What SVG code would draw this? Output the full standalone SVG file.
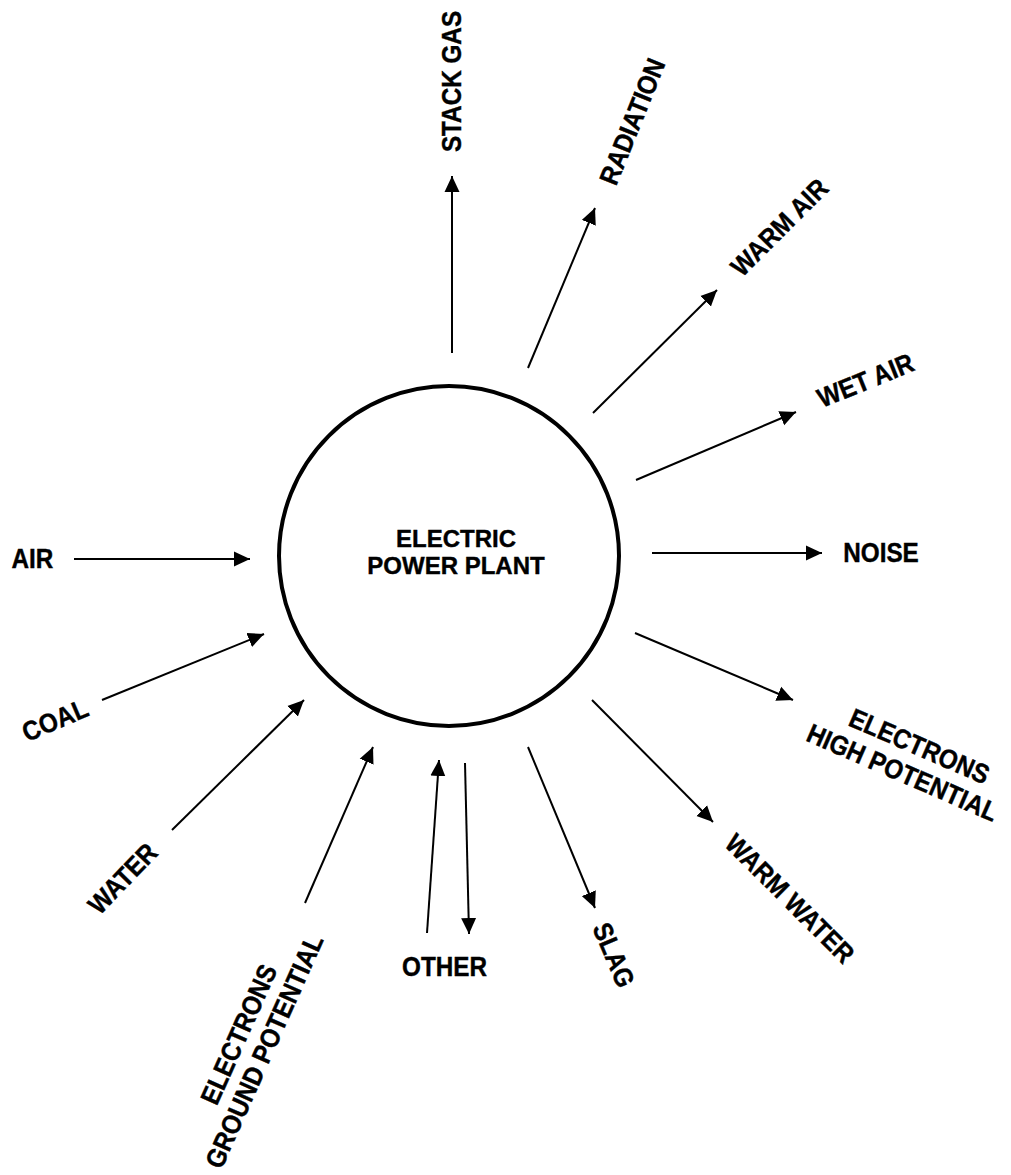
<svg xmlns="http://www.w3.org/2000/svg" width="1011" height="1175" viewBox="0 0 1011 1175">
<style>
  .lbl { font-family: "Liberation Sans", Arial, sans-serif; font-weight: bold; font-size: 27px; text-anchor: middle; fill: #000; stroke: #000; stroke-width: 0.4; }
  .ctr { font-family: "Liberation Sans", Arial, sans-serif; font-weight: bold; font-size: 24px; text-anchor: middle; fill: #000; stroke: #000; stroke-width: 0.4; }
  .arr { stroke: #000; stroke-width: 2; fill: none; marker-end: url(#ah); }
  .plant { stroke: #000; stroke-width: 4; fill: #fff; }
</style>
<defs>
  <marker id="ah" viewBox="0 0 16 16" markerWidth="16" markerHeight="16" refX="16" refY="8" orient="auto" markerUnits="userSpaceOnUse">
    <path d="M0,0.5 L16,8 L0,15.5 Z" fill="#000"/>
  </marker>
</defs>
<rect width="1011" height="1175" fill="#fff"/>

<g id="connectors">
  <line class="arr" x1="74" y1="559" x2="250" y2="559"/>
  <line class="arr" x1="102" y1="700" x2="264" y2="634"/>
  <line class="arr" x1="172" y1="830" x2="304" y2="700"/>
  <line class="arr" x1="305" y1="903" x2="373" y2="747"/>
  <line class="arr" x1="427" y1="933" x2="439" y2="760"/>
  <line class="arr" x1="465" y1="763" x2="469" y2="934"/>
  <line class="arr" x1="528" y1="747" x2="595" y2="908"/>
  <line class="arr" x1="592" y1="700" x2="713" y2="822"/>
  <line class="arr" x1="635" y1="633" x2="793" y2="700"/>
  <line class="arr" x1="652" y1="553" x2="822" y2="553"/>
  <line class="arr" x1="636" y1="480" x2="796" y2="412"/>
  <line class="arr" x1="593" y1="413" x2="717" y2="290"/>
  <line class="arr" x1="528" y1="368" x2="595" y2="208"/>
  <line class="arr" x1="452" y1="353" x2="452" y2="176"/>
</g>

<g id="plant">
  <circle class="plant" cx="449" cy="556" r="170"/>
  <text class="ctr" x="456" y="547">ELECTRIC</text>
  <text class="ctr" x="456" y="574">POWER PLANT</text>
</g>

<g id="air"><text class="lbl" transform="translate(32.5,568) scale(0.9,1)">AIR</text></g>
<g id="coal"><text class="lbl" transform="translate(58.7,728.7) rotate(-23) scale(0.9,1)">COAL</text></g>
<g id="water"><text class="lbl" transform="translate(129.3,885) rotate(-46) scale(0.9,1)">WATER</text></g>
<g id="electrons-ground">
  <g transform="translate(272.7,1054.9) rotate(-66)">
    <text class="lbl" transform="translate(5,-30) scale(0.9,1)">ELECTRONS</text>
    <text class="lbl" transform="scale(0.9,1)">GROUND POTENTIAL</text>
  </g>
</g>
<g id="other"><text class="lbl" transform="translate(444.5,976) scale(0.9,1)">OTHER</text></g>
<g id="slag"><text class="lbl" transform="translate(605.3,958.7) rotate(67) scale(0.9,1)">SLAG</text></g>
<g id="warm-water"><text class="lbl" transform="translate(783.3,905.2) rotate(45) scale(0.9,1)">WARM WATER</text></g>
<g id="electrons-high">
  <g transform="translate(898.7,781.2) rotate(23.5)">
    <text class="lbl" transform="translate(5,-31) scale(0.9,1)">ELECTRONS</text>
    <text class="lbl" transform="scale(0.9,1)">HIGH POTENTIAL</text>
  </g>
</g>
<g id="noise"><text class="lbl" transform="translate(881,562) scale(0.9,1)">NOISE</text></g>
<g id="wet-air"><text class="lbl" transform="translate(869,389) rotate(-22) scale(0.9,1)">WET AIR</text></g>
<g id="warm-air"><text class="lbl" transform="translate(786,234) rotate(-45) scale(0.9,1)">WARM AIR</text></g>
<g id="radiation"><text class="lbl" transform="translate(641,125) rotate(-68) scale(0.9,1)">RADIATION</text></g>
<g id="stack-gas"><text class="lbl" transform="translate(461,81.5) rotate(-90) scale(0.9,1)">STACK GAS</text></g>
</svg>
